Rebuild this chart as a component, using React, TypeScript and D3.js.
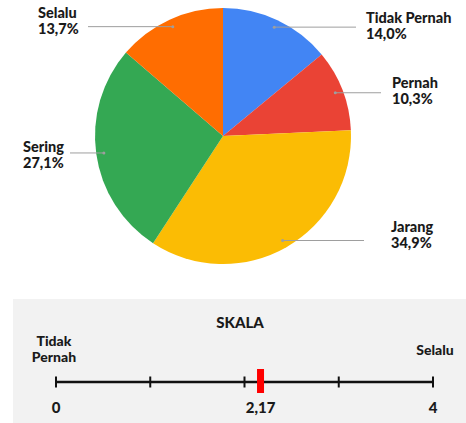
import React from 'react'
import * as d3 from 'd3'

const categories = ['Tidak Pernah', 'Pernah', 'Jarang', 'Sering', 'Selalu']
const percents = [14.0, 10.3, 34.9, 27.1, 13.7]
const colors = ['#4285f4', '#ea4335', '#fbbc04', '#34a853', '#ff6d01']

const scaleTicks = [0, 1, 2, 3, 4]
const scaleValue = 2.17
const scaleTitle = 'SKALA'
const scaleMinLabel = ['Tidak', 'Pernah']
const scaleMaxLabel = 'Selalu'

// label layout (text x, line end x, first baseline)
const labelTextX = [366, 392, 391, 23, 38]
const labelLineEnd = [356, 381, 364, 70, 88]
const labelBaseline = [23, 88, 232, 152, 18]

const W = 466
const H = 423
const font = 'Lato, "Open Sans", sans-serif'
const ink = '#1a1a1a'

const App = () => {
  const cx = 223
  const cy = 136
  const r = 128

  const pie = d3.pie<number>().sort(null).value(d => d)
  const arcs = pie(percents)
  const arc = d3.arc<d3.PieArcDatum<number>>().innerRadius(0).outerRadius(r)

  const x = d3.scaleLinear().domain([0, 4]).range([56, 433])
  const axisY = 382
  const fmt = (v: number, f: string) => d3.format(f)(v).replace('.', ',')

  return (
    <svg width={W} height={H} style={{ position: 'absolute', left: 0, top: 0, background: '#fff' }}>
      <g transform={`translate(${cx},${cy})`}>
        {arcs.map((a, i) => (
          <path key={i} d={arc(a) || ''} fill={colors[i]} />
        ))}
      </g>
      {arcs.map((a, i) => {
        const mid = (a.startAngle + a.endAngle) / 2
        const px = cx + Math.sin(mid) * r * 0.94
        const py = cy - Math.cos(mid) * r * 0.94
        const lx = labelTextX[i]
        return (
          <g key={i}>
            <line x1={px} y1={py} x2={labelLineEnd[i]} y2={py} stroke="#9e9e9e" strokeWidth={1} />
            <circle cx={px} cy={py} r={1.5} fill="#9e9e9e" />
            <text x={lx} y={labelBaseline[i]} fontFamily={font} fontWeight={900} fontSize={14.5} fill={ink}>
              {categories[i]}
            </text>
            <text x={lx} y={labelBaseline[i] + 15.5} fontFamily={font} fontWeight={900} fontSize={14.5} fill={ink}>
              {fmt(percents[i], '.1f')}%
            </text>
          </g>
        )
      })}

      <rect x={13} y={299} width={W - 13} height={H - 299} fill="#f2f2f2" />
      <text x={240} y={328} textAnchor="middle" fontFamily={font} fontWeight={900} fontSize={15} fill={ink}>{scaleTitle}</text>
      <text x={54} y={346} textAnchor="middle" fontFamily={font} fontWeight={900} fontSize={14} fill={ink}>{scaleMinLabel[0]}</text>
      <text x={54} y={362} textAnchor="middle" fontFamily={font} fontWeight={900} fontSize={14} fill={ink}>{scaleMinLabel[1]}</text>
      <text x={435} y={355} textAnchor="middle" fontFamily={font} fontWeight={900} fontSize={14} fill={ink}>{scaleMaxLabel}</text>

      <line x1={x(0)} x2={x(4)} y1={axisY} y2={axisY} stroke="#111" strokeWidth={2.5} />
      {scaleTicks.map(t => (
        <line key={t} x1={x(t)} x2={x(t)} y1={axisY - 5.5} y2={axisY + 5.5} stroke="#111" strokeWidth={2} />
      ))}
      <rect x={x(scaleValue) - 3.5} y={369} width={7} height={24} fill="#ff0000" />
      {[scaleTicks[0], scaleTicks[scaleTicks.length - 1]].map(t => (
        <text key={t} x={x(t)} y={413} textAnchor="middle" fontFamily={font} fontWeight={900} fontSize={15} fill={ink}>{t}</text>
      ))}
      <text x={x(scaleValue)} y={413} textAnchor="middle" fontFamily={font} fontWeight={900} fontSize={15} fill={ink}>
        {fmt(scaleValue, '.2f')}
      </text>
    </svg>
  )
}

export default App
